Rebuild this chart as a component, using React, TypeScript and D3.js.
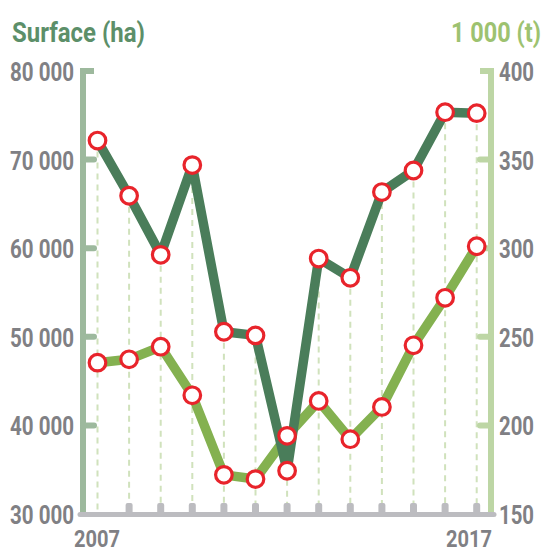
import React from "react";
import * as d3 from "d3";

const categories = ["y1", "y2", "y3", "y4", "y5", "y6", "y7", "y8", "y9", "y10", "y11", "y12", "y13"];
const xLabels = ["2007", "", "", "", "", "", "", "", "", "", "", "", "2017"];
const surface = [72150, 65920, 59250, 69380, 50570, 50160, 34880, 58830, 56660, 66340, 68770, 75350, 75240];
const production = [235.4, 237.3, 244.4, 217, 172.1, 169.7, 194.1, 213.8, 192.2, 210.4, 245.2, 272, 301.1];
const leftTicks = [30000, 40000, 50000, 60000, 70000, 80000];
const rightTicks = [150, 200, 250, 300, 350, 400];

const W = 547;
const H = 550;
const FONT = "Roboto, 'DejaVu Sans', sans-serif";

export default function App() {
  const x = d3.scalePoint<string>().domain(categories).range([97.5, 476.7]);
  const yL = d3.scaleLinear().domain([30000, 80000]).range([514, 71]);
  const yR = d3.scaleLinear().domain([150, 400]).range([514, 71]);

  const lineL = d3.line<number>().x((_, i) => x(categories[i])!).y((d) => yL(d));
  const lineR = d3.line<number>().x((_, i) => x(categories[i])!).y((d) => yR(d));

  const fmt = (v: number) => d3.format(",")(v).replace(/,/g, " ");
  const axisBottomY = 514.5;
  const leftX = 83;
  const rightX = 491;
  const textProps = { fontFamily: FONT, fontWeight: "bold" as const, lengthAdjust: "spacingAndGlyphs" };

  return (
    <svg width={W} height={H} style={{ position: "absolute", left: 0, top: 0, background: "#fff" }}>
      {/* titles */}
      <text x={12} y={42} {...textProps} fontSize={28} textLength={133} fill="#5c8f69">Surface (ha)</text>
      <text x={451} y={42} {...textProps} fontSize={28} textLength={90} fill="#9dc270">1 000 (t)</text>

      {/* dashed verticals */}
      {categories.map((c, i) => {
        const top = Math.min(yL(surface[i]), yR(production[i]));
        return (
          <line key={"d" + c} x1={x(c)} x2={x(c)} y1={top} y2={axisBottomY - 3}
            stroke="#d0e2bc" strokeWidth={2} strokeDasharray="6,5" />
        );
      })}

      {/* left axis */}
      <line x1={leftX} x2={leftX} y1={68} y2={axisBottomY} stroke="#9db99d" strokeWidth={6} />
      {leftTicks.filter((t) => t > 30000).map((t) => (
        <line key={"lt" + t} x1={leftX} x2={leftX + 11} y1={yL(t)} y2={yL(t)} stroke="#9db99d" strokeWidth={6}
          strokeLinecap={t === 80000 ? "butt" : "round"} />
      ))}
      {leftTicks.map((t) => (
        <text key={"ll" + t} x={10} y={yL(t) + 10} {...textProps} textLength={64}
          fontSize={25} fill="#808084">{fmt(t)}</text>
      ))}

      {/* right axis */}
      <line x1={rightX} x2={rightX} y1={68} y2={axisBottomY} stroke="#bdd6a5" strokeWidth={6} />
      {rightTicks.filter((t) => t > 150).map((t) => (
        <line key={"rt" + t} x1={rightX} x2={rightX - 11} y1={yR(t)} y2={yR(t)} stroke="#bdd6a5" strokeWidth={6}
          strokeLinecap={t === 400 ? "butt" : "round"} />
      ))}
      {rightTicks.map((t) => (
        <text key={"rl" + t} x={499} y={yR(t) + 10} {...textProps} textLength={35}
          fontSize={25} fill="#808084">{t}</text>
      ))}

      {/* bottom axis */}
      <line x1={80} x2={494} y1={axisBottomY} y2={axisBottomY} stroke="#bcbcc0" strokeWidth={5} strokeLinecap="round" />
      {categories.slice(1).map((c) => (
        <rect key={"bt" + c} x={x(c)! - 3.5} y={503} width={7} height={12} rx={2} fill="#bcbcc0" />
      ))}
      {xLabels.map((l, i) =>
        l ? (
          <text key={"xl" + i} x={i === 0 ? 74 : 446} y={546.5} {...textProps} textLength={46}
            fontSize={24} fill="#808084">{l}</text>
        ) : null
      )}

      {/* lines */}
      <path d={lineR(production)!} fill="none" stroke="#84b150" strokeWidth={9.5} strokeLinejoin="round" />
      <path d={lineL(surface)!} fill="none" stroke="#4a7d5a" strokeWidth={9.5} strokeLinejoin="round" />

      {/* markers */}
      {production.map((v, i) => (
        <circle key={"mp" + i} cx={x(categories[i])} cy={yR(v)} r={8.3} fill="#fff" stroke="#e8242b" strokeWidth={3.2} />
      ))}
      {surface.map((v, i) => (
        <circle key={"ms" + i} cx={x(categories[i])} cy={yL(v)} r={8.3} fill="#fff" stroke="#e8242b" strokeWidth={3.2} />
      ))}
    </svg>
  );
}
